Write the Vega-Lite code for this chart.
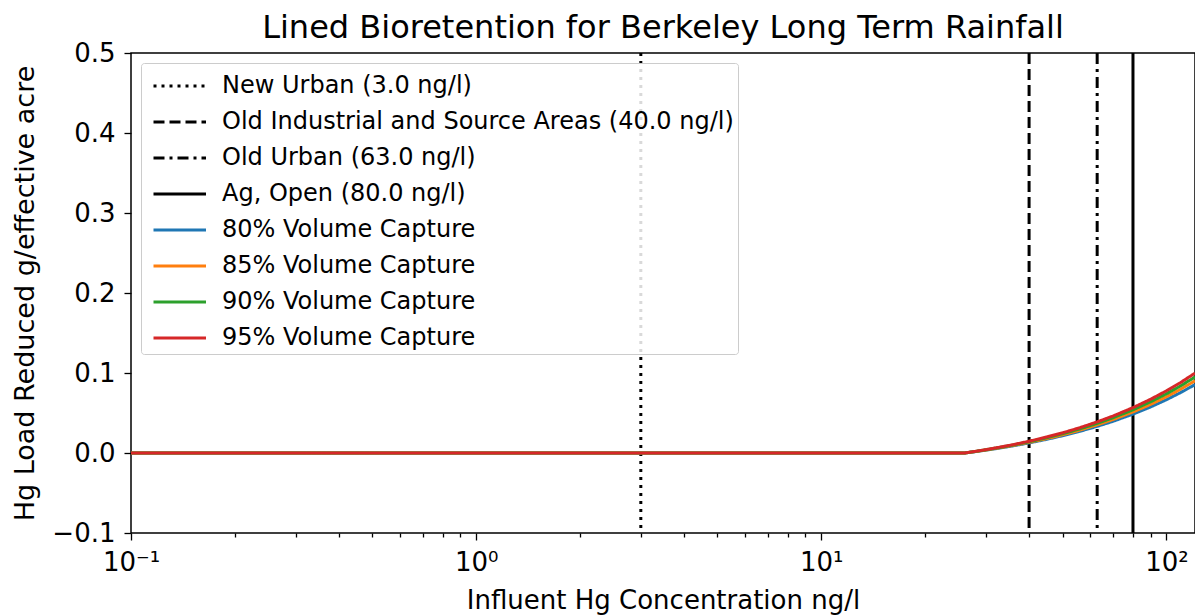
{
  "$schema": "https://vega.github.io/schema/vega-lite/v6.json",
  "width": 1064,
  "height": 480,
  "autosize": {"type": "none"},
  "padding": {"left": 131, "top": 53, "right": 0, "bottom": 83},
  "background": "white",
  "title": {"text": "Lined Bioretention for Berkeley Long Term Rainfall", "font": "DejaVu Sans", "fontSize": 32, "fontWeight": "normal", "color": "black", "anchor": "middle", "offset": -5},
  "config": {
    "view": {"stroke": "black", "strokeWidth": 1.5},
    "axis": {"labelFont": "DejaVu Sans", "titleFont": "DejaVu Sans", "labelColor": "black", "titleColor": "black", "titleFontWeight": "normal", "domain": false, "tickColor": "black", "grid": false}
  },
  "datasets": {
    "vlines": [
      {"series": "New Urban (3.0 ng/l)", "c": 3.0},
      {"series": "Old Industrial and Source Areas (40.0 ng/l)", "c": 40.0},
      {"series": "Old Urban (63.0 ng/l)", "c": 63.0},
      {"series": "Ag, Open (80.0 ng/l)", "c": 80.0}
    ],
    "curves": [
      {"c": 0.1, "80% Volume Capture": 0, "85% Volume Capture": 0, "90% Volume Capture": 0, "95% Volume Capture": 0},
      {"c": 1, "80% Volume Capture": 0, "85% Volume Capture": 0, "90% Volume Capture": 0, "95% Volume Capture": 0},
      {"c": 10, "80% Volume Capture": 0, "85% Volume Capture": 0, "90% Volume Capture": 0, "95% Volume Capture": 0},
      {"c": 26, "80% Volume Capture": 0, "85% Volume Capture": 0, "90% Volume Capture": 0, "95% Volume Capture": 0},
      {"c": 28, "80% Volume Capture": 0.0018, "85% Volume Capture": 0.0019, "90% Volume Capture": 0.002, "95% Volume Capture": 0.0021},
      {"c": 30, "80% Volume Capture": 0.0036, "85% Volume Capture": 0.0038, "90% Volume Capture": 0.004, "95% Volume Capture": 0.0042},
      {"c": 33, "80% Volume Capture": 0.0063, "85% Volume Capture": 0.0067, "90% Volume Capture": 0.007, "95% Volume Capture": 0.0074},
      {"c": 36, "80% Volume Capture": 0.009, "85% Volume Capture": 0.0095, "90% Volume Capture": 0.010, "95% Volume Capture": 0.0105},
      {"c": 40, "80% Volume Capture": 0.0126, "85% Volume Capture": 0.0133, "90% Volume Capture": 0.014, "95% Volume Capture": 0.0147},
      {"c": 45, "80% Volume Capture": 0.0171, "85% Volume Capture": 0.018, "90% Volume Capture": 0.019, "95% Volume Capture": 0.020},
      {"c": 50, "80% Volume Capture": 0.0216, "85% Volume Capture": 0.0228, "90% Volume Capture": 0.024, "95% Volume Capture": 0.0252},
      {"c": 56, "80% Volume Capture": 0.027, "85% Volume Capture": 0.0285, "90% Volume Capture": 0.030, "95% Volume Capture": 0.0315},
      {"c": 63, "80% Volume Capture": 0.0333, "85% Volume Capture": 0.0352, "90% Volume Capture": 0.037, "95% Volume Capture": 0.0389},
      {"c": 70, "80% Volume Capture": 0.0396, "85% Volume Capture": 0.0418, "90% Volume Capture": 0.044, "95% Volume Capture": 0.0462},
      {"c": 80, "80% Volume Capture": 0.0486, "85% Volume Capture": 0.0513, "90% Volume Capture": 0.054, "95% Volume Capture": 0.0567},
      {"c": 90, "80% Volume Capture": 0.0576, "85% Volume Capture": 0.0608, "90% Volume Capture": 0.064, "95% Volume Capture": 0.0672},
      {"c": 100, "80% Volume Capture": 0.0666, "85% Volume Capture": 0.0703, "90% Volume Capture": 0.074, "95% Volume Capture": 0.0777},
      {"c": 110, "80% Volume Capture": 0.0756, "85% Volume Capture": 0.0798, "90% Volume Capture": 0.084, "95% Volume Capture": 0.0882},
      {"c": 121, "80% Volume Capture": 0.0855, "85% Volume Capture": 0.0903, "90% Volume Capture": 0.095, "95% Volume Capture": 0.0998}
    ]
  },
  "encoding": {
    "x": {
      "field": "c", "type": "quantitative",
      "scale": {"type": "log", "domain": [0.1, 121], "nice": false},
      "axis": {
        "title": "Influent Hg Concentration ng/l", "titleFontSize": 26, "titlePadding": 12,
        "labelFontSize": 26, "labelPadding": 9,
        "values": [0.1,0.2,0.3,0.4,0.5,0.6,0.7,0.8,0.9,1,2,3,4,5,6,7,8,9,10,20,30,40,50,60,70,80,90,100],
        "labelExpr": "abs(datum.value-0.1)<1e-9 ? '10⁻¹' : abs(datum.value-1)<1e-9 ? '10⁰' : abs(datum.value-10)<1e-9 ? '10¹' : abs(datum.value-100)<1e-9 ? '10²' : ''",
        "tickSize": {"condition": {"test": "abs(datum.value-0.1)<1e-9 || abs(datum.value-1)<1e-9 || abs(datum.value-10)<1e-9 || abs(datum.value-100)<1e-9", "value": 7}, "value": 4},
        "tickWidth": 1.3,
        "labelFlush": false, "labelOverlap": false
      }
    }
  },
  "layer": [
    {
      "data": {"name": "vlines"},
      "mark": {"type": "rule", "strokeWidth": 3},
      "encoding": {
        "color": {"field": "series", "type": "nominal"},
        "strokeDash": {"field": "series", "type": "nominal"}
      }
    },
    {
      "data": {"name": "curves"},
      "transform": [{"fold": ["80% Volume Capture", "85% Volume Capture", "90% Volume Capture", "95% Volume Capture"], "as": ["series", "load"]}],
      "mark": {"type": "line", "strokeWidth": 3, "clip": true},
      "encoding": {
        "y": {
          "field": "load", "type": "quantitative",
          "scale": {"domain": [-0.1, 0.5], "nice": false, "zero": false},
          "axis": {
            "title": "Hg Load Reduced g/effective acre", "titleFontSize": 27, "titlePadding": 12,
            "labelFontSize": 26, "labelPadding": 9,
            "values": [-0.1, 0, 0.1, 0.2, 0.3, 0.4, 0.5],
            "labelExpr": "replace(format(datum.value, '.1f'), '-', '−')",
            "tickSize": 7, "tickWidth": 1.3
          }
        },
        "color": {
          "field": "series", "type": "nominal",
          "scale": {
            "domain": ["New Urban (3.0 ng/l)", "Old Industrial and Source Areas (40.0 ng/l)", "Old Urban (63.0 ng/l)", "Ag, Open (80.0 ng/l)", "80% Volume Capture", "85% Volume Capture", "90% Volume Capture", "95% Volume Capture"],
            "range": ["black", "black", "black", "black", "#1f77b4", "#ff7f0e", "#2ca02c", "#d62728"]
          },
          "legend": {
            "title": null, "orient": "top-left", "offset": 10,
            "symbolType": "M-0.6,0H2.4", "symbolSize": 1225, "symbolStrokeWidth": 3, "symbolFillColor": "transparent",
            "labelFont": "DejaVu Sans", "labelFontSize": 24, "labelColor": "black", "labelLimit": 700,
            "labelOffset": 39, "rowPadding": 5,
            "padding": 4, "strokeColor": "#cccccc", "fillColor": "rgba(255,255,255,0.85)", "cornerRadius": 3
          }
        },
        "strokeDash": {
          "field": "series", "type": "nominal",
          "scale": {
            "domain": ["New Urban (3.0 ng/l)", "Old Industrial and Source Areas (40.0 ng/l)", "Old Urban (63.0 ng/l)", "Ag, Open (80.0 ng/l)", "80% Volume Capture", "85% Volume Capture", "90% Volume Capture", "95% Volume Capture"],
            "range": [[3, 5], [11, 5], [11, 5, 3, 5], [1, 0], [1, 0], [1, 0], [1, 0], [1, 0]]
          }
        }
      }
    }
  ]
}
